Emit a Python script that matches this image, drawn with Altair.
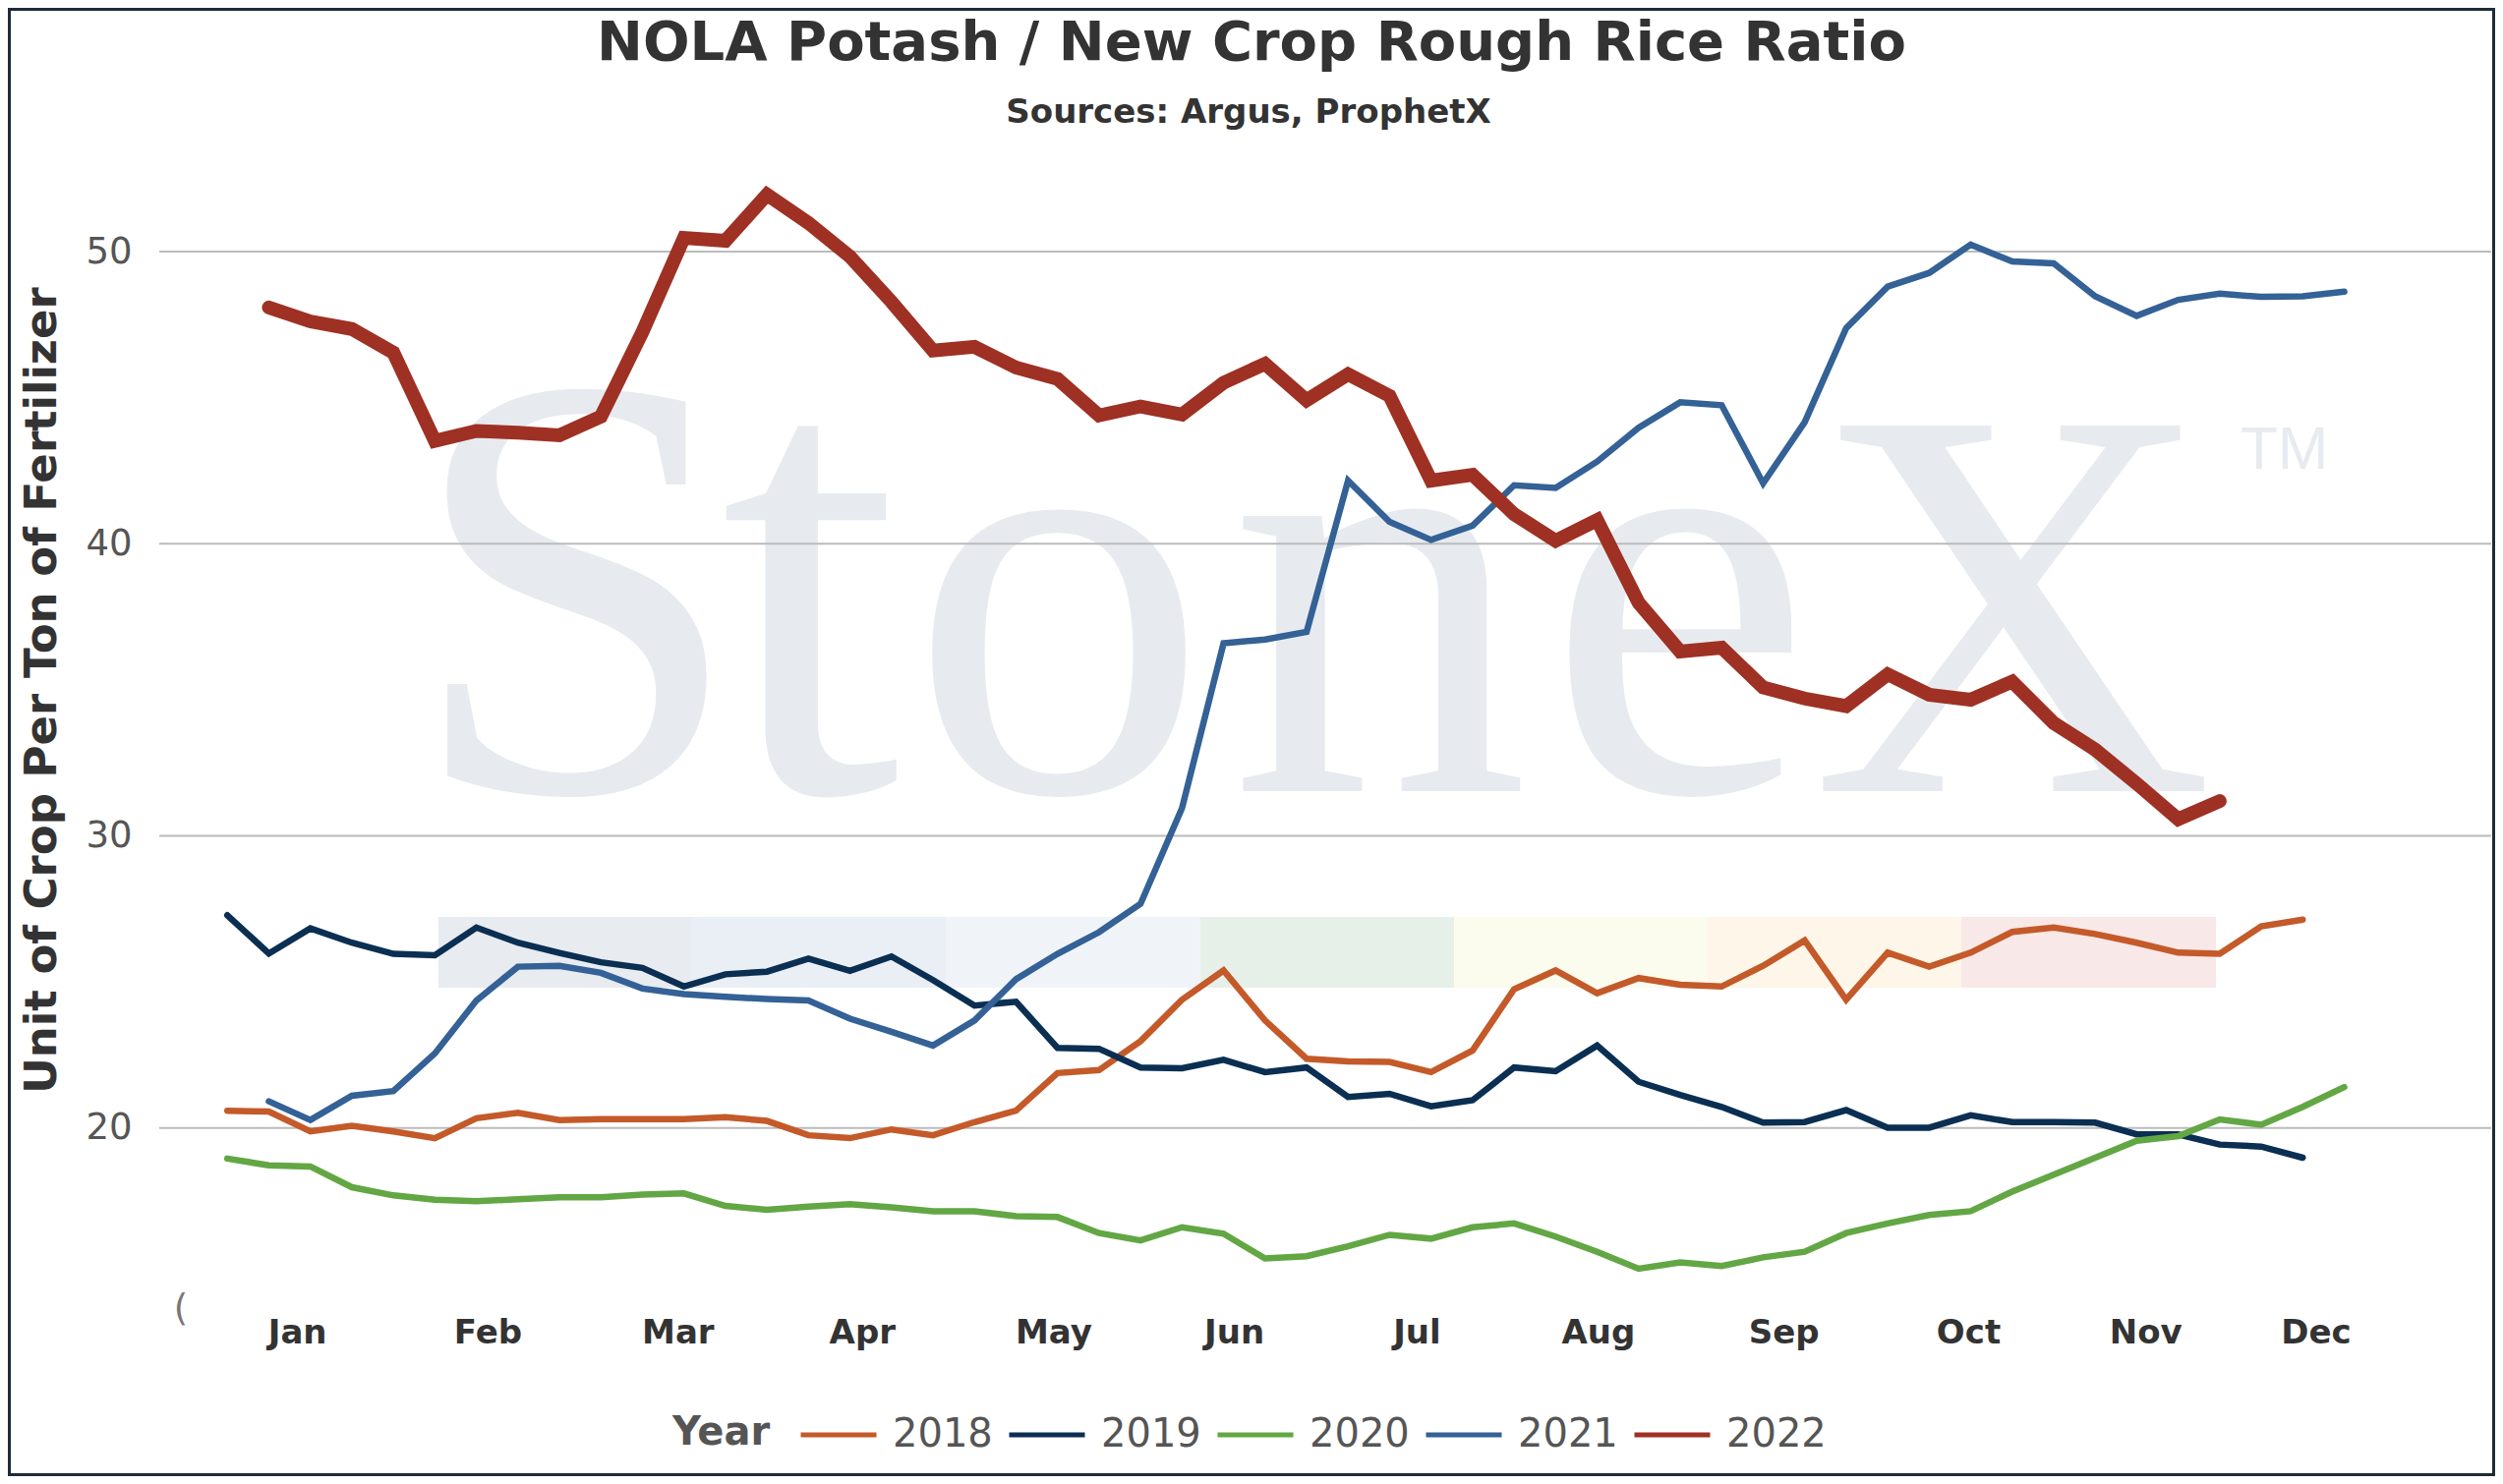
import json
import altair as alt
import pandas as pd

# ---------------- data ----------------
years = ["2018", "2019", "2020", "2021", "2022"]
colors = ["#C45A29", "#0A2F52", "#62A744", "#346196", "#9E3123"]

# week index (0 = first week of January)
weeks_2018 = list(range(0, 51))
ratio_2018 = [20.59, 20.56, 19.88, 20.07, 19.88, 19.65, 20.33, 20.52, 20.27, 20.30,
              20.30, 20.30, 20.37, 20.24, 19.75, 19.65, 19.95, 19.75, 20.20, 20.59,
              21.88, 21.98, 22.97, 24.39, 25.39, 23.68, 22.37, 22.28, 22.26, 21.91,
              22.65, 24.75, 25.39, 24.61, 25.13, 24.90, 24.84, 25.55, 26.42, 24.39,
              26.00, 25.52, 26.00, 26.71, 26.86, 26.64, 26.34, 26.00, 25.96, 26.90,
              27.13]

weeks_2019 = list(range(0, 51))
ratio_2019 = [27.28, 25.97, 26.83, 26.34, 25.96, 25.91, 26.86, 26.34, 25.99, 25.67,
              25.48, 24.84, 25.26, 25.35, 25.80, 25.38, 25.87, 25.06, 24.19, 24.32,
              22.74, 22.71, 22.07, 22.04, 22.33, 21.91, 22.07, 21.06, 21.17, 20.74,
              20.95, 22.07, 21.94, 22.82, 21.58, 21.13, 20.72, 20.18, 20.20, 20.61,
              20.01, 20.01, 20.43, 20.20, 20.20, 20.18, 19.78, 19.78, 19.43, 19.36,
              18.98]

weeks_2020 = list(range(0, 52))
ratio_2020 = [18.95, 18.72, 18.68, 17.97, 17.69, 17.54, 17.49, 17.56, 17.63, 17.63,
              17.72, 17.76, 17.33, 17.20, 17.31, 17.39, 17.28, 17.15, 17.15, 16.98,
              16.95, 16.40, 16.15, 16.60, 16.38, 15.53, 15.61, 15.95, 16.34, 16.21,
              16.60, 16.73, 16.28, 15.76, 15.18, 15.40, 15.27, 15.57, 15.76, 16.40,
              16.73, 17.02, 17.15, 17.82, 18.40, 18.98, 19.56, 19.72, 20.29, 20.11,
              20.72, 21.40]

weeks_2021 = list(range(1, 52))
ratio_2021 = [20.91, 20.27, 21.10, 21.26, 22.55, 24.36, 25.52, 25.55, 25.31, 24.77,
              24.58, 24.49, 24.41, 24.36, 23.74, 23.29, 22.82, 23.68, 25.09, 25.96,
              26.70, 27.67, 30.95, 36.59, 36.72, 36.98, 42.16, 40.75, 40.13, 40.62,
              42.00, 41.91, 42.81, 43.97, 44.84, 44.74, 42.07, 44.16, 47.38, 48.80,
              49.27, 50.24, 49.66, 49.60, 48.47, 47.80, 48.35, 48.56, 48.45, 48.47,
              48.63]

weeks_2022 = list(range(1, 49))
ratio_2022 = [48.09, 47.61, 47.35, 46.54, 43.52, 43.86, 43.80, 43.71, 44.35, 47.25,
              50.47, 50.37, 51.95, 50.98, 49.83, 48.28, 46.61, 46.74, 46.03, 45.64,
              44.39, 44.70, 44.42, 45.51, 46.16, 44.91, 45.80, 45.06, 42.16, 42.36,
              41.01, 40.10, 40.81, 37.98, 36.31, 36.44, 35.08, 34.70, 34.44, 35.53,
              34.83, 34.66, 35.28, 33.86, 32.95, 31.79, 30.57, 31.19]

month_names = ["Jan", "Feb", "Mar", "Apr", "May", "Jun",
               "Jul", "Aug", "Sep", "Oct", "Nov", "Dec"]
month_ticks = [1.68, 6.27, 10.85, 15.29, 19.90, 24.25,
               28.65, 33.02, 37.49, 41.94, 46.21, 50.31]
grid_values = [20, 30, 40, 50]

title_text = "NOLA Potash / New Crop Rough Rice Ratio"
subtitle_text = "Sources: Argus, ProphetX"
legend_title = "Year"

# ---------------- tables ----------------
series = {
    "2018": (weeks_2018, ratio_2018),
    "2019": (weeks_2019, ratio_2019),
    "2020": (weeks_2020, ratio_2020),
    "2021": (weeks_2021, ratio_2021),
    "2022": (weeks_2022, ratio_2022),
}
rows = []
for yr, (wk, vals) in series.items():
    for w, v in zip(wk, vals):
        rows.append({"week": w, "value": v, "Year": yr})
df = pd.DataFrame(rows)
df_thin = df[df["Year"] != "2022"]
df_thick = df[df["Year"] == "2022"]

# plot geometry (pixels)
W, H = 2372, 1180
PAD = {"left": 154, "top": 141, "right": 4, "bottom": 173}

xscale = alt.Scale(domain=[-1.64, 54.54], nice=False, zero=False)
yscale = alt.Scale(domain=[13.9, 53.6], nice=False, zero=False)
cscale = alt.Scale(domain=years, range=colors)

label_expr = "{}[indexof({}, datum.value)]".format(json.dumps(month_names), json.dumps(month_ticks))

x_axis = alt.Axis(values=month_ticks, labelExpr=label_expr, title=None, grid=False,
                  domain=False, ticks=False, tickSize=0, labelFontSize=34,
                  labelFontWeight="bold", labelColor="#333333", labelPadding=10,
                  labelFont="DejaVu Sans", labelFlush=False, labelOverlap=False)
y_axis = alt.Axis(values=grid_values, title="Unit of Crop Per Ton of Fertilizer",
                  grid=False, domain=False, ticks=False, tickSize=0,
                  labelFontSize=37, labelColor="#555555", labelPadding=28,
                  labelFont="DejaVu Sans", titleFont="DejaVu Sans",
                  titleFontSize=45, titleFontWeight="bold", titleColor="#333333",
                  titleAngle=270, titleX=-106, titleY=553, titleAlign="center",
                  titleBaseline="alphabetic")

legend = alt.Legend(title=None, orient="none", legendX=650, legendY=1270,
                    direction="horizontal",
                    labelFontSize=40, labelColor="#555555", labelFont="DejaVu Sans",
                    labelOffset=14, columnPadding=6, symbolType="stroke",
                    symbolSize=5929, symbolStrokeWidth=5)

# ---------------- title and free texts (real text marks) ----------------
title_tbl = pd.DataFrame({
    "t": [title_text, subtitle_text],
    "px": [1111, 1108],
    "py": [-88, -24],
    "fs": [56, 34],
})
title_chart = alt.Chart(title_tbl).mark_text(
    font="DejaVu Sans", fontWeight="bold", color="#333333",
    align="center", baseline="alphabetic"
).encode(
    x=alt.X("px:Q", scale=None, axis=None),
    y=alt.Y("py:Q", scale=None, axis=None),
    size=alt.Size("fs:Q", scale=None, legend=None),
    text="t:N",
)
legend_title_chart = alt.Chart(pd.DataFrame({"t": [legend_title], "px": [522], "py": [1321]})).mark_text(
    font="DejaVu Sans", fontWeight="bold", color="#555555", fontSize=40,
    align="left", baseline="alphabetic"
).encode(
    x=alt.X("px:Q", scale=None, axis=None),
    y=alt.Y("py:Q", scale=None, axis=None),
    text="t:N",
)
# small clipped glyph seen at the lower left of the reference's axis
stub = alt.Chart(pd.DataFrame({"t": ["("], "px": [22], "py": [1195]})).mark_text(
    font="DejaVu Sans", fontSize=37, color="#777777", align="center",
    baseline="alphabetic"
).encode(
    x=alt.X("px:Q", scale=None, axis=None),
    y=alt.Y("py:Q", scale=None, axis=None),
    text="t:N",
)

# ---------------- watermark (decoration) ----------------
wm_letters = pd.DataFrame({
    "ch": ["S", "t", "o", "n", "e", "X"],
    "px": [423, 662, 915, 1241, 1546, 1885],
    "py": [656, 656, 656, 656, 656, 656],
    "fs": [618, 660, 608, 610, 610, 568],
})
wm = alt.Chart(wm_letters).mark_text(
    font="Liberation Serif", color="#E7EBF0",
    align="center", baseline="alphabetic"
).encode(
    x=alt.X("px:Q", scale=None, axis=None),
    y=alt.Y("py:Q", scale=None, axis=None),
    size=alt.Size("fs:Q", scale=None, legend=None),
    text="ch:N",
)
tm = alt.Chart(pd.DataFrame({"ch": ["TM"], "px": [2117], "py": [328]})).mark_text(
    font="Liberation Sans", fontSize=62, color="#E7EBF0",
    align="left", baseline="alphabetic"
).encode(
    x=alt.X("px:Q", scale=None, axis=None),
    y=alt.Y("py:Q", scale=None, axis=None),
    text="ch:N",
)
band_tbl = pd.DataFrame({
    "x0": [284, 541, 800, 1059, 1317, 1575, 1833],
    "x1": [541, 800, 1059, 1317, 1575, 1833, 2092],
    "col": ["#E8EBF0", "#EAEEF5", "#F0F4F9", "#E7EFE9", "#FBFBEE", "#FEF6E9", "#F8E8E8"],
})
band_tbl["y0"] = 784
band_tbl["y1"] = 856
band = alt.Chart(band_tbl).mark_rect().encode(
    x=alt.X("x0:Q", scale=None, axis=None),
    x2="x1",
    y=alt.Y("y0:Q", scale=None, axis=None),
    y2="y1",
    fill=alt.Fill("col:N", scale=None, legend=None),
)

# ---------------- chart layers ----------------
grid = alt.Chart(pd.DataFrame({"value": grid_values})).mark_rule(
    color="#BBBBBB", strokeWidth=2
).encode(y=alt.Y("value:Q", scale=yscale, axis=y_axis))

thin = alt.Chart(df_thin).mark_line(strokeWidth=6.5, strokeCap="round").encode(
    x=alt.X("week:Q", scale=xscale, axis=x_axis),
    y=alt.Y("value:Q", scale=yscale, axis=y_axis),
    color=alt.Color("Year:N", scale=cscale, legend=legend),
)
thick = alt.Chart(df_thick).mark_line(strokeWidth=14, strokeCap="round").encode(
    x=alt.X("week:Q", scale=xscale, axis=x_axis),
    y=alt.Y("value:Q", scale=yscale, axis=y_axis),
    color=alt.Color("Year:N", scale=cscale, legend=legend),
)

frame = alt.Chart(pd.DataFrame({"a": [0]})).mark_rect(
    fillOpacity=0, stroke="#1F2B38", strokeWidth=3
).encode(
    x=alt.value(-PAD["left"] + 1.5),
    x2=alt.value(W + PAD["right"] - 1.5),
    y=alt.value(-PAD["top"] + 1.5),
    y2=alt.value(H + PAD["bottom"] - 1.5),
)

chart = alt.layer(wm, tm, band, grid, thin, thick, title_chart,
                  legend_title_chart, stub, frame).properties(
    width=W, height=H,
    autosize=alt.AutoSizeParams(type="none"),
    padding=PAD,
).configure(font="DejaVu Sans").configure_view(stroke=None)

chart.save("out.html", embed_options={"renderer": "svg", "actions": False})
